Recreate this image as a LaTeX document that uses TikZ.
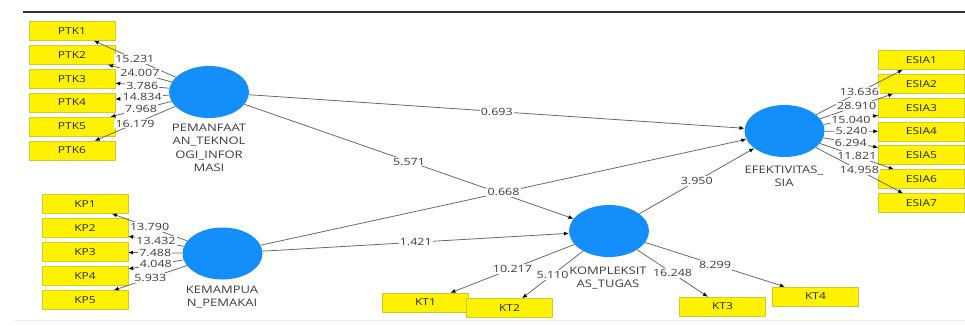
\documentclass[tikz,border=0pt]{standalone}
\usepackage{fontspec}
\setmainfont{Open Sans}
\usepackage{graphicx}
\usetikzlibrary{shapes,arrows.meta}
\definecolor{plsblue}{RGB}{20,142,250}
\definecolor{plsedge}{RGB}{105,105,105}
\definecolor{plstext}{RGB}{60,60,60}
\newcommand{\sq}[1]{\scalebox{1}[0.8]{#1}}
\tikzstyle{lv} = [ellipse, fill=plsblue, minimum width=80pt, minimum height=52pt, inner sep=0pt]
\tikzstyle{mv} = [rectangle, fill=yellow, draw=yellow!80!black, minimum width=86pt, minimum height=19pt, inner sep=0pt, text=black!85, font=\fontsize{12}{12}\selectfont]
\tikzstyle{lvname} = [align=center, text=plstext, font=\fontsize{13}{13.5}\selectfont]
\tikzstyle{pl} = [draw=plsedge, line width=0.8pt, -{Latex[length=5pt,width=4pt,black]}]
\tikzstyle{coef} = [fill=white, inner sep=1.2pt, text=plstext, font=\fontsize{12.5}{12.5}\selectfont]

\begin{document}
\begin{tikzpicture}[x=1pt, y=-1pt]

	\useasboundingbox (0,0) rectangle (965,325);
	\draw[line width=1.3pt, black!80] (23,12) -- (965,12);
	\draw[line width=0.8pt, black!8] (15,320) -- (965,320);

	\node[lv] (pem) at (209,92) {};
	\node[lvname] (pemT) at (209,148) {\sq{PEMANFAAT}\\\sq{AN\_TEKNOL}\\\sq{OGI\_INFOR}\\\sq{MASI}};
	\node[lv] (kem) at (222.5,253.5) {};
	\node[lvname] (kemT) at (222,297) {\sq{KEMAMPUA}\\\sq{N\_PEMAKAI}};
	\node[lv] (efe) at (784.5,131) {};
	\node[lvname] (efeT) at (784,176.5) {\sq{EFEKTIVITAS\_}\\\sq{SIA}};
	\node[lv] (kom) at (609,231) {};
	\node[lvname] (komT) at (608,278) {\sq{KOMPLEKSIT}\\\sq{AS\_TUGAS}};

	\node[mv] (ptk1) at (72,31) {\sq{PTK1}};
	\node[mv] (ptk2) at (72,55) {\sq{PTK2}};
	\node[mv] (ptk3) at (72,79) {\sq{PTK3}};
	\node[mv] (ptk4) at (72,102.5) {\sq{PTK4}};
	\node[mv] (ptk5) at (72,126.5) {\sq{PTK5}};
	\node[mv] (ptk6) at (72,150.5) {\sq{PTK6}};

	\node[mv] (kp1) at (85,204) {\sq{KP1}};
	\node[mv] (kp2) at (85,228) {\sq{KP2}};
	\node[mv] (kp3) at (85,252) {\sq{KP3}};
	\node[mv] (kp4) at (85,276) {\sq{KP4}};
	\node[mv] (kp5) at (85,300) {\sq{KP5}};

	\node[mv] (esia1) at (921.5,60) {\sq{ESIA1}};
	\node[mv] (esia2) at (921.5,84) {\sq{ESIA2}};
	\node[mv] (esia3) at (921.5,108) {\sq{ESIA3}};
	\node[mv] (esia4) at (921.5,131.5) {\sq{ESIA4}};
	\node[mv] (esia5) at (921.5,155) {\sq{ESIA5}};
	\node[mv] (esia6) at (921.5,179) {\sq{ESIA6}};
	\node[mv] (esia7) at (921.5,203) {\sq{ESIA7}};

	\node[mv] (kt1) at (425.5,302.5) {\sq{KT1}};
	\node[mv] (kt2) at (509.5,308) {\sq{KT2}};
	\node[mv] (kt3) at (722.5,306.5) {\sq{KT3}};
	\node[mv] (kt4) at (815.5,296.5) {\sq{KT4}};

	\draw[pl] (pem) -- node[coef] {\sq{15.231}} (ptk1);
	\draw[pl] (pem) -- node[coef] {\sq{24.007}} (ptk2);
	\draw[pl] (pem) -- node[coef] {\sq{3.786}} (ptk3);
	\draw[pl] (pem) -- node[coef] {\sq{14.834}} (ptk4);
	\draw[pl] (pem) -- node[coef] {\sq{7.968}} (ptk5);
	\draw[pl] (pem) -- node[coef] {\sq{16.179}} (ptk6);

	\draw[pl] (kem) -- node[coef] {\sq{13.790}} (kp1);
	\draw[pl] (kem) -- node[coef] {\sq{13.432}} (kp2);
	\draw[pl] (kem) -- node[coef] {\sq{7.488}} (kp3);
	\draw[pl] (kem) -- node[coef] {\sq{4.048}} (kp4);
	\draw[pl] (kem) -- node[coef] {\sq{5.933}} (kp5);

	\draw[pl] (efe) -- node[coef] {\sq{13.636}} (esia1);
	\draw[pl] (efe) -- node[coef] {\sq{28.910}} (esia2);
	\draw[pl] (efe) -- node[coef] {\sq{15.040}} (esia3);
	\draw[pl] (efe) -- node[coef] {\sq{5.240}} (esia4);
	\draw[pl] (efe) -- node[coef] {\sq{6.294}} (esia5);
	\draw[pl] (efe) -- node[coef] {\sq{11.821}} (esia6);
	\draw[pl] (efe) -- node[coef] {\sq{14.958}} (esia7);

	\draw[pl] (kom) -- node[coef] {\sq{10.217}} (kt1);
	\draw[pl] (kom) -- node[coef] {\sq{5.110}} (kt2);
	\draw[pl] (kom) -- node[coef] {\sq{16.248}} (kt3);
	\draw[pl] (kom) -- node[coef] {\sq{8.299}} (kt4);

	\draw[pl] (pem) -- node[coef] {\sq{0.693}} (efe);
	\draw[pl] (pem) -- node[coef] {\sq{5.571}} (kom);
	\draw[pl] (kem) -- node[coef] {\sq{0.668}} (efe);
	\draw[pl] (kem) -- node[coef] {\sq{1.421}} (kom);
	\draw[pl] (kom) -- node[coef] {\sq{3.950}} (efe);

\end{tikzpicture}
\end{document}
